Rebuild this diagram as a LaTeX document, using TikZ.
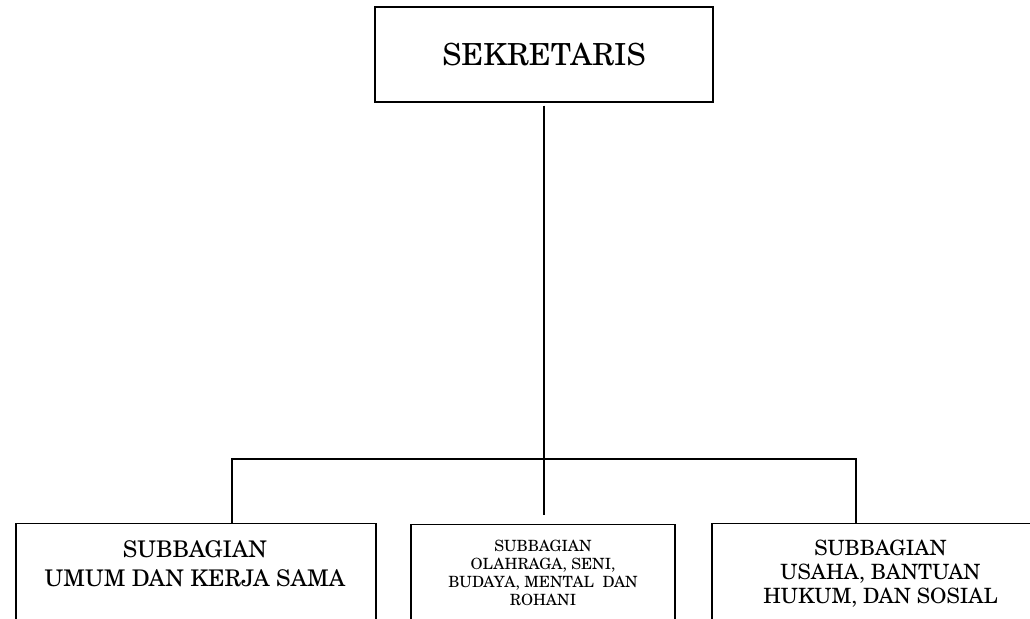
\documentclass[tikz,border=0pt]{standalone}
\usepackage{fontspec}
\setmainfont{TeX Gyre Schola}
\begin{document}
\begin{tikzpicture}[x=0.75pt,y=-0.75pt,
  box/.style={draw,line width=1.1pt,rectangle,inner sep=0pt},
  lbl/.style={align=center,inner sep=0pt},
  conn/.style={line width=1.1pt}]
\useasboundingbox (0,0) rectangle (1030,618);
\clip (0,0) rectangle (1030,618);
\fill[white] (0,0) rectangle (1030,618);
% top box
\node[box,minimum width=253.5pt,minimum height=71.25pt] (top) at (544,54.5) {};
\node[lbl,font=\fontsize{22.8}{28}\selectfont] (toptxt) at (544,55) {SEKRETARIS};
% bottom boxes
\node[box,anchor=north,minimum width=270pt,minimum height=132.75pt] (left) at (196,523) {};
\node[box,anchor=north,minimum width=198pt,minimum height=132.75pt] (mid) at (543,524) {};
\node[box,anchor=north,minimum width=252.75pt,minimum height=132.75pt] (right) at (880.5,523) {};
\node[lbl,font=\fontsize{17.2}{21.75}\selectfont] (lefttxt) at (195,564) {SUBBAGIAN\\UMUM DAN KERJA SAMA};
\node[lbl,font=\fontsize{11.6}{13.5}\selectfont] (midtxt) at (543,573) {SUBBAGIAN\\OLAHRAGA, SENI,\\BUDAYA, MENTAL\ \ DAN\\ROHANI};
\node[lbl,font=\fontsize{15.8}{18}\selectfont] (righttxt) at (880.5,573.5) {SUBBAGIAN\\USAHA, BANTUAN\\HUKUM, DAN SOSIAL};
% connectors
\coordinate (bus) at (544,459);
\draw[conn] ([yshift=-2.25pt]top.south) -- ([yshift=6.75pt]top.south |- mid.north);
\draw[conn] ([xshift=27pt]left.north) |- (bus) -| ([xshift=-18.4pt]right.north);
\end{tikzpicture}
\end{document}
